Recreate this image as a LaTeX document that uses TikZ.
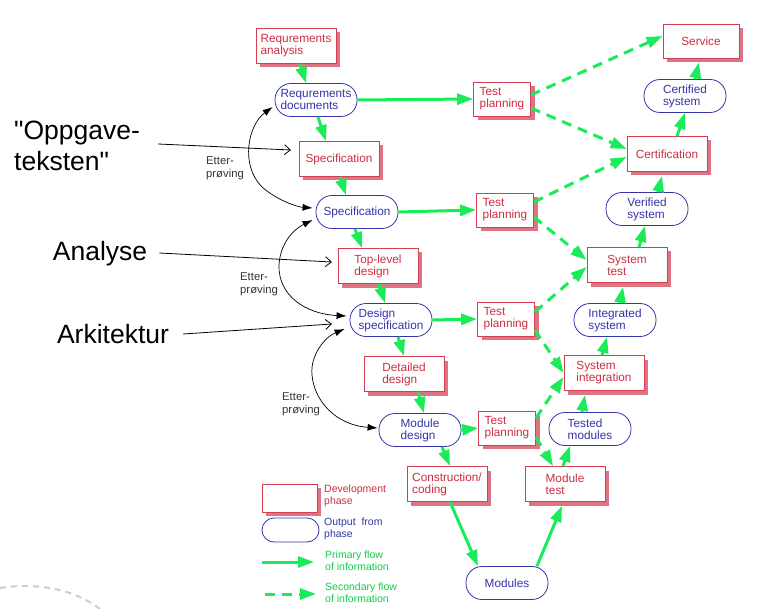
\documentclass[tikz,border=0pt]{standalone}
\usepackage{fontspec}
\setmainfont{Liberation Sans}
\newfontfamily\qfam{Liberation Sans}[Ligatures=TeXOff]
\usetikzlibrary{arrows.meta,shadows}
\definecolor{phred}{RGB}{212,62,82}
\definecolor{phtext}{RGB}{205,45,65}
\definecolor{shred}{RGB}{222,115,130}
\definecolor{outblue}{RGB}{52,52,172}
\definecolor{flowgreen}{RGB}{25,236,88}
\definecolor{arcgray}{RGB}{205,205,205}
\newcommand\ndfont{\fontsize{11.8}{12}\selectfont}
\newcommand\lgfont{\fontsize{10.5}{12}\selectfont}
\newcommand\etfont{\fontsize{11.3}{13}\selectfont}
\newcommand\bgfont{\qfam\fontsize{26.5}{31}\selectfont}
\begin{document}
\begin{tikzpicture}[x=1pt,y=-1pt,
  phase/.style={draw=phred, fill=white, line width=0.8pt, minimum width=80pt,
    minimum height=35pt, inner sep=0pt, align=left, text=phtext, font=\ndfont,
    drop shadow={shadow xshift=4pt, shadow yshift=-4pt, fill=shred, opacity=1, draw=none}},
  tpbox/.style={phase, minimum width=57pt, minimum height=34pt},
  outp/.style={draw=outblue, fill=white, line width=0.8pt, rounded corners=16pt,
    minimum width=82pt, minimum height=33pt, inner sep=0pt, align=left,
    text=outblue, font=\ndfont},
  prim/.style={draw=flowgreen, line width=3pt, -{Triangle[length=16pt,width=11pt]}},
  sec/.style={prim, dash pattern=on 10pt off 7pt},
  etter/.style={draw=black, line width=0.7pt,
    {Latex[length=10pt,width=7pt]}-{Latex[length=10pt,width=7pt]}},
  annot/.style={draw=black, line width=0.8pt, -{Straight Barb[length=6pt,width=10pt]}},
  bigtxt/.style={font=\bgfont, align=left, inner sep=0pt, text=black},
  etxt/.style={font=\etfont, align=left, inner sep=0pt, text=black!80},
  lgtxt/.style={font=\lgfont, align=left, inner sep=0pt, anchor=west}
]
\useasboundingbox (0,0) rectangle (759,609);

% background gray arc
\draw[arcgray, line width=2pt, dash pattern=on 6pt off 5pt]
  (0,588) .. controls (40,582) and (75,590) .. (100,609);

% development phases
\node[phase] (ra) at (296,46) {Requrements\\analysis};
\node[phase] (sp) at (339,159) {Specification};
\node[phase] (tl) at (378,266) {Top-level\\design};
\node[phase] (dd) at (404,374) {Detailed\\design};
\node[phase] (cc) at (447,484) {Construction/\\coding};
\node[phase] (mt) at (565,484) {Module\\test};
\node[tpbox] (tp1) at (502,99) {Test\\planning};
\node[tpbox] (tp2) at (505,210) {Test\\planning};
\node[tpbox] (tp3) at (506,319) {Test\\planning};
\node[tpbox] (tp4) at (507,428) {Test\\planning};
\node[phase] (st) at (627,265) {System\\test};
\node[phase] (si) at (604,373) {System\\integration};
\node[phase] (ce) at (667,154) {Certification};
\node[phase, minimum width=76pt, minimum height=34pt] (sv) at (701,41) {Service};

% outputs
\node[outp] (rd) at (316,100) {Requrements\\documents};
\node[outp] (sb) at (357,212) {Specification};
\node[outp] (ds) at (391,320) {Design\\specification};
\node[outp] (md) at (420,430) {Module\\design};
\node[outp] (mo) at (507,583) {Modules};
\node[outp] (tm) at (590,429) {Tested\\modules};
\node[outp] (is) at (615,320) {Integrated\\system};
\node[outp] (vs) at (647,209) {Verified\\system};
\node[outp] (cs) at (685,96) {Certified\\system};

% primary flow
\draw[prim] ([xshift=4pt]ra.south) -- ([xshift=-10pt]rd.north);
\draw[prim] ([xshift=2pt]rd.south) -- ([xshift=-13pt]sp.north);
\draw[prim] (rd.east) -- (tp1.west);
\draw[prim] ([xshift=1pt]sp.south) -- ([xshift=-11pt]sb.north);
\draw[prim] (sb.east) -- (tp2.west);
\draw[prim] ([xshift=-2pt]sb.south) -- ([xshift=-16pt]tl.north);
\draw[prim] ([xshift=1pt]tl.south) -- ([xshift=-6pt]ds.north);
\draw[prim] (ds.east) -- (tp3.west);
\draw[prim] ([xshift=7pt]ds.south) -- ([xshift=0pt]dd.north);
\draw[prim] ([xshift=14pt]dd.south) -- ([xshift=4pt]md.north);
\draw[prim] (md.east) -- (tp4.west);
\draw[prim] ([xshift=22pt]md.south) -- ([xshift=3pt]cc.north);
\draw[prim] ([xshift=3pt]cc.south) -- ([xshift=-29pt]mo.north);
\draw[prim] ([xshift=30pt]mo.north) -- ([xshift=-3pt,yshift=-4pt]mt.south);
\draw[prim] ([xshift=-2pt]mt.north) -- ([xshift=-20pt]tm.south);
\draw[prim] ([xshift=-8pt]tm.north) -- ([xshift=-19pt,yshift=-4pt]si.south);
\draw[prim] ([xshift=-2pt]si.north) -- ([xshift=-8pt]is.south);
\draw[prim] ([xshift=5pt]is.north) -- ([xshift=-4pt,yshift=-4pt]st.south);
\draw[prim] ([xshift=12pt]st.north) -- ([xshift=-2pt]vs.south);
\draw[prim] ([xshift=11pt]vs.north) -- ([xshift=-5pt,yshift=-4pt]ce.south);
\draw[prim] ([xshift=10pt]ce.north) -- (cs.south);
\draw[prim] ([xshift=10pt]cs.north) -- ([xshift=-2pt,yshift=-4pt]sv.south);

% secondary flow
\draw[sec] ([yshift=4pt]tp1.east) -- ([yshift=5pt]sv.west);
\draw[sec] ([yshift=-9pt]tp1.east) -- ([yshift=5pt]ce.west);
\draw[sec] ([yshift=8pt]tp2.east) -- ([yshift=-3pt]ce.west);
\draw[sec] ([yshift=-7pt]tp2.east) -- ([yshift=5pt]st.west);
\draw[sec] ([yshift=7pt]tp3.east) -- ([yshift=-2pt]st.west);
\draw[sec] ([yshift=-11pt]tp3.east) -- (si.west);
\draw[sec] ([yshift=10pt]tp4.east) -- ([yshift=-4pt]si.west);
\draw[sec] ([yshift=-9pt]tp4.east) -- ([xshift=-12pt]mt.north);

% Etterproving
\draw[etter] ([xshift=-2pt,yshift=-7pt]rd.west) .. controls (248,125) and (240,165) ..
  (262,187) .. controls (278,201) and (298,207) .. ([xshift=-3pt,yshift=4pt]sb.west);
\draw[etter] ([xshift=-3pt,yshift=-8pt]sb.west) .. controls (292,230) and (280,245) ..
  (279,265) .. controls (278,295) and (305,314) .. ([xshift=-3pt,yshift=4pt]ds.west);
\draw[etter] ([xshift=-5pt,yshift=-9pt]ds.west) .. controls (325,337) and (310,355) ..
  (312,375) .. controls (314,400) and (335,425) .. ([xshift=-1pt,yshift=2pt]md.west);
\node[etxt, anchor=west] (e1) at (206,168) {Etter-\\prøving};
\node[etxt, anchor=west] (e2) at (240,284) {Etter-\\prøving};
\node[etxt, anchor=west] (e3) at (282,404) {Etter-\\prøving};

% annotations
\node[bigtxt, anchor=west] (opp) at (14,146) {"Oppgave-\\teksten"};
\node[bigtxt] (ana) at (100,254) {Analyse};
\node[bigtxt] (ark) at (113,334) {Arkitektur};
\coordinate (c1) at (291,150);
\coordinate (c2) at (332,262);
\coordinate (c3) at (332,324);
\draw[annot] ([xshift=18pt,yshift=2pt]opp.east) -- (c1);
\draw[annot] ([xshift=12pt,yshift=1pt]ana.east) -- (c2);
\draw[annot] ([xshift=14pt]ark.east) -- (c3);

% legend
\node[phase, minimum width=55pt, minimum height=28pt] (lg1) at (289.5,498) {};
\node[outp, minimum width=57pt, minimum height=24pt, rounded corners=12pt] (lg2) at (290.5,530) {};
\coordinate (l3a) at (262,562);
\coordinate (l3b) at (314,562);
\coordinate (l4a) at (265,594);
\coordinate (l4b) at (316,594);
\draw[prim] (l3a) -- (l3b);
\draw[sec] (l4a) -- (l4b);
\node[lgtxt, text=phtext] (t1) at (324,496) {Development\\phase};
\node[lgtxt, text=outblue] (t2) at (324,529) {Output\ \ from\\phase};
\node[lgtxt, text=flowgreen!85!black] (t3) at (325,561) {Primary flow\\of information};
\node[lgtxt, text=flowgreen!85!black] (t4) at (325,593) {Secondary flow\\of information};
\end{tikzpicture}
\end{document}
